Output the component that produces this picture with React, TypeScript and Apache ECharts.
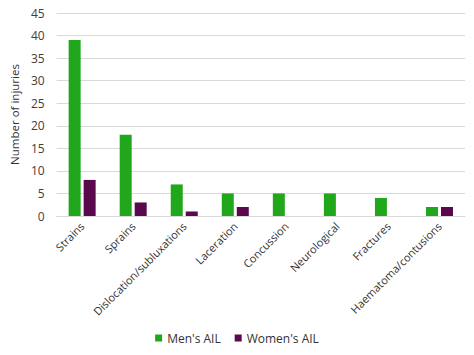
import React, { useEffect, useRef } from "react";
import * as echarts from "echarts";

const categories = [
  "Strains",
  "Sprains",
  "Dislocation/subluxations",
  "Laceration",
  "Concussion",
  "Neurological",
  "Fractures",
  "Haematoma/contusions",
];
const mensAIL = [39, 18, 7, 5, 5, 5, 4, 2];
const womensAIL = [8, 3, 1, 2, 0, 0, 0, 2];
const seriesNames = ["Men's AIL", "Women's AIL"];

export default function App() {
  const ref = useRef<HTMLDivElement>(null);
  useEffect(() => {
    if (!ref.current) return;
    const chart = echarts.init(ref.current, null, { renderer: "svg" });
    const font = "Open Sans";
    chart.setOption({
      animation: false,
      backgroundColor: "#ffffff",
      textStyle: { fontFamily: font },
      grid: { left: 54, right: 9, top: 13, bottom: 139, containLabel: false },
      legend: {
        data: seriesNames,
        bottom: 6,
        left: "center",
        itemWidth: 7,
        itemHeight: 7,
        itemGap: 14,
        icon: "rect",
        textStyle: { fontSize: 12, color: "#333333", fontFamily: font },
      },
      xAxis: {
        type: "category",
        data: categories,
        axisLine: { lineStyle: { color: "#d9d9d9" } },
        axisTick: { show: false },
        axisLabel: {
          rotate: 45,
          interval: 0,
          fontSize: 11,
          color: "#333333",
          fontFamily: font,
          margin: 8,
        },
      },
      yAxis: {
        type: "value",
        min: 0,
        max: 45,
        interval: 5,
        name: "Number of injuries",
        nameLocation: "middle",
        nameGap: 28,
        nameTextStyle: { fontSize: 11.5, color: "#333333", fontFamily: font },
        axisLine: { show: false },
        axisTick: { show: false },
        axisLabel: { fontSize: 12, color: "#404040", fontFamily: font, margin: 12 },
        splitLine: { lineStyle: { color: "#d9d9d9" } },
      },
      series: [
        {
          name: seriesNames[0],
          type: "bar",
          data: mensAIL,
          barWidth: 12,
          barGap: "25%",
          itemStyle: { color: "#21a71b" },
        },
        {
          name: seriesNames[1],
          type: "bar",
          data: womensAIL,
          barWidth: 12,
          itemStyle: { color: "#5a0a4c" },
        },
      ],
    });
    return () => chart.dispose();
  }, []);
  return <div ref={ref} style={{ width: 474, height: 355, position: "absolute", left: 0, top: 0 }} />;
}
